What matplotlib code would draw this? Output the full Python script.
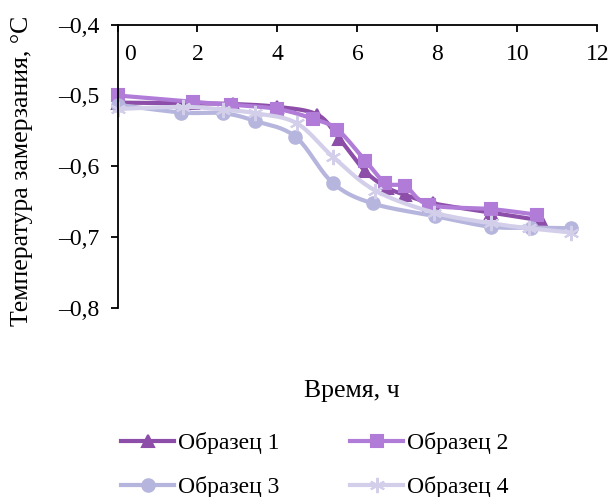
import numpy as np
import matplotlib
matplotlib.use("Agg")
import matplotlib.pyplot as plt
from matplotlib.lines import Line2D
from matplotlib.transforms import ScaledTranslation

plt.rcParams['font.family'] = ['Liberation Serif', 'DejaVu Serif']
plt.rcParams['font.size'] = 17

# data (time, h / freezing temperature, °C)
x1 = [0, 1.9, 2.9, 4.0, 5.0, 5.55, 6.2, 6.75, 7.2, 7.9, 9.35, 10.6]
y1 = [-0.510, -0.511, -0.512, -0.516, -0.527, -0.561, -0.607, -0.630, -0.640, -0.652, -0.665, -0.676]

x2 = [0, 1.9, 2.85, 4.0, 4.9, 5.5, 6.2, 6.7, 7.2, 7.8, 9.35, 10.5]
y2 = [-0.500, -0.509, -0.513, -0.519, -0.533, -0.548, -0.592, -0.623, -0.628, -0.654, -0.660, -0.668]

x3 = [0, 1.6, 2.65, 3.45, 4.45, 5.38, 6.38, 7.94, 9.35, 10.35, 11.33]
y3 = [-0.513, -0.524, -0.525, -0.536, -0.558, -0.623, -0.652, -0.670, -0.685, -0.686, -0.687]

x4 = [0, 1.65, 2.65, 3.45, 4.48, 5.4, 6.45, 7.92, 9.35, 10.3, 11.35]
y4 = [-0.519, -0.516, -0.520, -0.525, -0.539, -0.587, -0.634, -0.665, -0.680, -0.687, -0.693]

names = ['Образец 1', 'Образец 2', 'Образец 3', 'Образец 4']
colors = ['#8C4EA8', '#B07CD8', '#B6B5DD', '#D3CFEA']
markers = ['^', 's', 'o', (6, 2, 0)]
msizes = [9, 9, 9, 11]

xticks = [0, 2, 4, 6, 8, 10, 12]
yticks = [-0.4, -0.5, -0.6, -0.7, -0.8]


def smooth(x, y, n=20):
    # Catmull-Rom curve through the points, like Excel's smoothed line
    x = np.asarray(x, float)
    y = np.asarray(y, float)
    px = np.concatenate([[x[0]], x, [x[-1]]])
    py = np.concatenate([[y[0]], y, [y[-1]]])
    xs, ys = [], []
    t = np.linspace(0, 1, n)
    for i in range(1, len(px) - 2):
        for p, out in ((px, xs), (py, ys)):
            p0, p1, p2, p3 = p[i - 1], p[i], p[i + 1], p[i + 2]
            c1 = p1 + (p2 - p0) / 6
            c2 = p2 - (p3 - p1) / 6
            out.extend((1 - t) ** 3 * p1 + 3 * (1 - t) ** 2 * t * c1
                       + 3 * (1 - t) * t ** 2 * c2 + t ** 3 * p2)
    return xs, ys


fig = plt.figure(figsize=(6.13, 4.97), dpi=100)
ax = fig.add_axes([0.1917, 0.3793, 0.7827, 0.5714])

series = [(x1, y1), (x2, y2), (x3, y3), (x4, y4)]
handles = []
for (xs, ys), c, m, ms, nm in zip(series, colors, markers, msizes, names):
    sx, sy = smooth(xs, ys)
    ax.plot(sx, sy, color=c, lw=3, solid_capstyle='round', clip_on=False)
    ax.plot(xs, ys, ls='none', marker=m, ms=ms, color=c, mec=c,
            mew=1.5, clip_on=False)
    handles.append(Line2D([], [], color=c, lw=3, marker=m, ms=ms, mec=c,
                          mew=1.5, label=nm))

ax.set_xlim(0, 12)
ax.set_ylim(-0.8, -0.4)
ax.spines['bottom'].set_visible(False)
ax.spines['right'].set_visible(False)
for s in ('left', 'top'):
    ax.spines[s].set_linewidth(1.3)

ax.xaxis.set_ticks_position('top')
ax.set_xticks(xticks)
ax.set_xticklabels([str(v) for v in xticks])
ax.tick_params(axis='x', direction='in', length=5, width=1.3,
               labeltop=True, labelbottom=False, pad=-29)
lab0 = ax.get_xticklabels()[0]
lab0.set_transform(lab0.get_transform() + ScaledTranslation(0.12, 0, fig.dpi_scale_trans))

ax.set_yticks(yticks)
ax.set_yticklabels([('%.1f' % v).replace('-', '–').replace('.', ',') for v in yticks])
ax.tick_params(axis='y', direction='out', length=5, width=1.3, pad=8)

fig.text(22 / 613, 1 - 171 / 497, 'Температура замерзания, °C', rotation=90,
         ha='center', va='center', fontsize=18.5)
fig.text(352 / 613, 1 - 391 / 497, 'Время, ч', ha='center', va='center',
         fontsize=18.5)

# row-wise order: 1 2 / 3 4
order = [0, 2, 1, 3]
fig.legend(handles=[handles[i] for i in order], ncol=2, frameon=False,
           loc='upper left', bbox_to_anchor=(121 / 613, 1 - 432 / 497),
           handlelength=2.25, handletextpad=0.15, columnspacing=3.0,
           labelspacing=0.95, borderpad=0, borderaxespad=0)

fig.savefig('out.png', dpi=100)
